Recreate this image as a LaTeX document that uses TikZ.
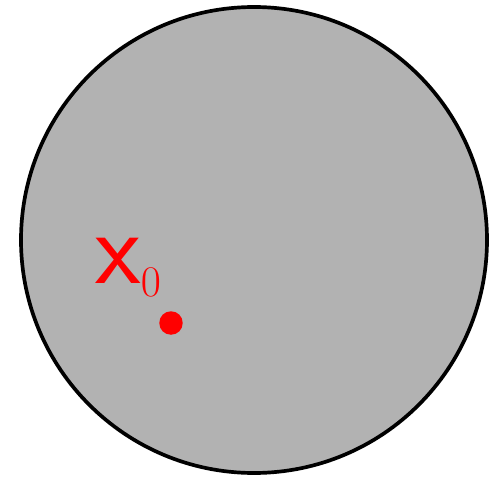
\documentclass[tikz,border=0pt]{standalone}
\usepackage{amsmath}
\usepackage{tikz}
\usetikzlibrary{positioning}

\begin{document}
\begin{tikzpicture}[x=0.02cm,y=0.02cm]
                \useasboundingbox (0,0) rectangle (501,478);
                % Draw the disc
                \draw[fill=gray!60, line width=2.1pt] (254,238) circle (233);
                % the point
                \node[circle, fill=red, inner sep=0pt, minimum size=0.47cm] (xpt) at (171,155) {};
                \node[anchor=base west, inner sep=0pt, text=red] (xlab) at (95,195)
                  {\fontsize{48}{52}\selectfont$\text{\fontsize{60}{62}\selectfont\sffamily x}_0$};
              \end{tikzpicture}
\end{document}
